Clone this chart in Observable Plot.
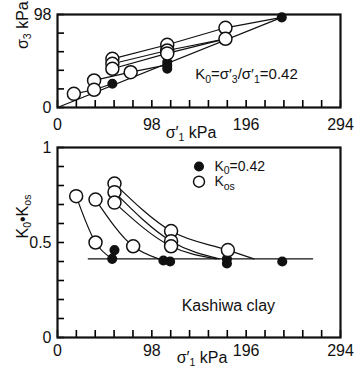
<!DOCTYPE html>
<html><head><meta charset="utf-8">
<script src="https://cdn.jsdelivr.net/npm/d3@7"></script>
<script src="https://cdn.jsdelivr.net/npm/@observablehq/plot@0.6"></script>
<style>
body{margin:0;background:#fff;}
#chart{width:354px;height:382px;overflow:hidden;}
svg{display:block;}
</style></head><body><div id="chart"></div>
<script>
// ---------- tick values ----------
const sigmaMinorTicks = [0,19.6,39.2,58.8,78.4,98,117.6,137.2,156.8,176.4,196,215.6,235.2,254.8,274.4,294];
const sigmaLabelTicks = [0,98,196,294];
const s3MinorTicks = [0,19.6,39.2,58.8,78.4,98];
const s3LabelTicks = [0,98];
const kMinorTicks = [0,0.1,0.2,0.3,0.4,0.5,0.6,0.7,0.8,0.9,1];
const kLabelTicks = [0,0.5,1];

// ---------- top panel: sigma1' vs sigma3' ----------
const topOpenS1 = [17,38,38,57,57,57,76,114,114,114,174.5,174.5];
const topOpenS3 = [14.4,28.5,18.7,51.3,46.1,40.8,37.2,66.1,60.1,57,84,72.4];
const topFilledS1 = [57,114,114,114,174.5,233];
const topFilledS3 = [25,48,44.5,41,74.5,95];
const topPathId = ["K0","K0","a","a","a","b","b","b","c","c","c","c","d","d","d","e","e","e"];
const topPathS1 = [0,233, 17,38,57, 38,76,114, 57,114,174.5,233, 57,114,174.5, 57,114,174.5];
const topPathS3 = [0,95, 14.4,18.7,25, 28.5,37.2,45, 51.3,66.1,84,95, 46.1,60.1,72.4, 40.8,57,72.4];

// ---------- bottom panel: sigma1' vs K ----------
const botOpenS1 = [19.4,39.5,39.5,59.2,59.2,59.2,78.6,118,118,118,177];
const botOpenK = [0.744,0.50,0.726,0.81,0.765,0.71,0.48,0.56,0.507,0.48,0.46];
const botFilledS1 = [59.2,56.8,110,117,176,176,233.5];
const botFilledK = [0.46,0.414,0.405,0.40,0.414,0.39,0.40];
const curveId = ["1","1","1","2","2","2","3","3","3","3","4","4","4","5","5","5"];
const curveS1 = [19.4,39.5,56.8, 39.5,78.6,105, 59.2,118,177,204, 59.2,118,168, 59.2,118,165];
const curveK = [0.744,0.50,0.414, 0.726,0.48,0.414, 0.81,0.56,0.46,0.414, 0.765,0.507,0.414, 0.71,0.48,0.414];
const k0LineS1 = [32,265];
const k0LineK = [0.414,0.414];

const toRows = (xs, ys, ids) => xs.map((x, i) => ({x, y: ys[i], id: ids ? ids[i] : null}));

const font = "'Liberation Sans', Arial, 'DejaVu Sans', sans-serif";
const baseStyle = {fontFamily: font, fontSize: "16px", color: "#111", background: "white", overflow: "visible"};
const fmt = d => `${d}`;

const topPlot = Plot.plot({
  width: 354, height: 140,
  marginLeft: 57, marginRight: 14, marginTop: 14, marginBottom: 33,
  x: {domain: [0, 294]},
  y: {domain: [0, 98]},
  style: baseStyle,
  marks: [
    Plot.line(toRows(topPathS1, topPathS3, topPathId), {x: "x", y: "y", z: "id", stroke: "#111", strokeWidth: 1.2}),
    Plot.dot(toRows(topFilledS1, topFilledS3), {x: "x", y: "y", r: 4.3, fill: "#111", stroke: "#111"}),
    Plot.dot(toRows(topOpenS1, topOpenS3), {x: "x", y: "y", r: 6.5, fill: "white", stroke: "#111", strokeWidth: 1.5}),
    // inward ticks (~7 px long): frame is 93 px tall, 283 px wide
    Plot.tickX(sigmaMinorTicks, {x: d => d, insetTop: 86, stroke: "#000", strokeWidth: 1.6}),
    Plot.tickY(s3MinorTicks, {y: d => d, insetRight: 276, stroke: "#000", strokeWidth: 1.6}),
    Plot.axisX(sigmaLabelTicks, {tickSize: 0, tickPadding: 11, tickFormat: fmt, label: null, fontSize: 16}),
    Plot.axisY(s3LabelTicks, {tickSize: 0, tickPadding: 6, tickFormat: fmt, label: null, fontSize: 16}),
    Plot.frame({stroke: "#111", strokeWidth: 2.2}),
    Plot.text(["K_{0}=σ′_{3}/σ′_{1}=0.42"], {x: 143, y: 35, textAnchor: "start", fontSize: 15}),
    Plot.text(["σ′_{1} kPa"], {frameAnchor: "bottom", dy: 30, dx: -8, fontSize: 16}),
    Plot.text(["σ_{3} kPa"], {frameAnchor: "left", dx: -35, dy: -12, rotate: -90, fontSize: 16})
  ]
});

const botPlot = Plot.plot({
  width: 354, height: 242,
  marginLeft: 57, marginRight: 14, marginTop: 7, marginBottom: 45,
  x: {domain: [0, 294]},
  y: {domain: [0, 1]},
  style: baseStyle,
  marks: [
    Plot.line(toRows(k0LineS1, k0LineK), {x: "x", y: "y", stroke: "#111", strokeWidth: 1.4}),
    Plot.line(toRows(curveS1, curveK, curveId), {x: "x", y: "y", z: "id", curve: "monotone-x", stroke: "#111", strokeWidth: 1.2}),
    Plot.dot(toRows(botFilledS1, botFilledK), {x: "x", y: "y", r: 4.3, fill: "#111", stroke: "#111"}),
    Plot.dot(toRows(botOpenS1, botOpenK), {x: "x", y: "y", r: 6.5, fill: "white", stroke: "#111", strokeWidth: 1.5}),
    // inward ticks: frame is 190 px tall
    Plot.tickX(sigmaMinorTicks, {x: d => d, insetTop: 183, stroke: "#000", strokeWidth: 1.6}),
    Plot.tickY(kMinorTicks, {y: d => d, insetRight: 276, stroke: "#000", strokeWidth: 1.6}),
    Plot.axisX(sigmaLabelTicks, {tickSize: 0, tickPadding: 7, tickFormat: fmt, label: null, fontSize: 16}),
    Plot.axisY(kLabelTicks, {tickSize: 0, tickPadding: 6, tickFormat: fmt, label: null, fontSize: 16}),
    Plot.frame({stroke: "#111", strokeWidth: 2.2}),
    // legend
    Plot.dot([0], {x: 147, y: 0.9, r: 4.3, fill: "#111", stroke: "#111"}),
    Plot.dot([0], {x: 147, y: 0.82, r: 5.5, fill: "white", stroke: "#111", strokeWidth: 1.5}),
    Plot.text(["K_{0}=0.42"], {x: 163, y: 0.9, textAnchor: "start", fontSize: 14}),
    Plot.text(["K_{os}"], {x: 163, y: 0.82, textAnchor: "start", fontSize: 14}),
    Plot.text(["Kashiwa clay"], {x: 129, y: 0.165, textAnchor: "start", fontSize: 16}),
    Plot.text(["σ′_{1} kPa"], {frameAnchor: "bottom", dy: 25, dx: 3, fontSize: 16}),
    Plot.text(["K_{0}•K_{os}"], {frameAnchor: "left", dx: -35, dy: -4, rotate: -90, fontSize: 16})
  ]
});

// turn _{..} markers into real subscript tspans
function richify(svg) {
  d3.select(svg).selectAll("text").each(function() {
    const t = this.textContent;
    if (!t.includes("_{")) return;
    const parts = t.split(/_\{([^}]*)\}/);
    const el = d3.select(this);
    el.text(null);
    let shifted = false;
    parts.forEach((p, i) => {
      if (p === "") return;
      const sub = i % 2 === 1;
      const ts = el.append("tspan").text(p);
      if (sub) {
        ts.attr("font-size", "10.5px").attr("dy", shifted ? null : 3.5);
        shifted = true;
      } else if (shifted) {
        ts.attr("dy", -3.5);
        shifted = false;
      }
    });
  });
}
richify(topPlot);
richify(botPlot);

const chart = document.getElementById("chart");
chart.appendChild(topPlot);
chart.appendChild(botPlot);
</script>
</body></html>
